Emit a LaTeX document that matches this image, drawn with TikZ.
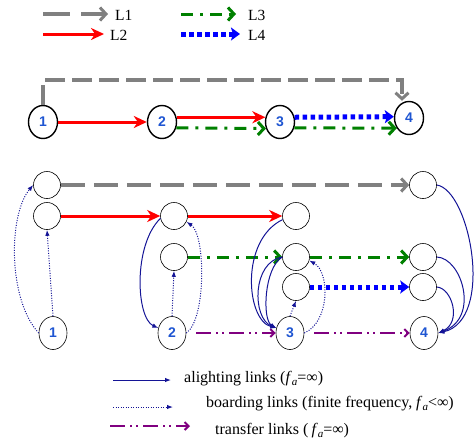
\documentclass[tikz,border=0pt]{standalone}
\usepackage{fontspec}
\setmainfont{Liberation Serif}
\newfontfamily\labfont{Liberation Sans}
\usetikzlibrary{arrows.meta,shapes.geometric}
\definecolor{navy}{RGB}{20,20,150}
\definecolor{lblue}{RGB}{30,85,210}
\definecolor{lgreen}{RGB}{0,128,0}
\definecolor{lpurple}{RGB}{128,0,128}
\definecolor{lgray}{RGB}{128,128,128}
\newcommand{\fa}{\textit{f}\raisebox{-0.35ex}{\fontsize{11}{11}\selectfont\textit{a}}}
\begin{document}
\begin{tikzpicture}[x=1pt,y=-1pt,
  txt/.style={font=\fontsize{15.5}{17}\selectfont, inner sep=0pt, anchor=west},
  ltxt/.style={font=\fontsize{16}{18}\selectfont, inner sep=0pt, anchor=west},
  bignode/.style={draw, ellipse, line width=1.4pt, minimum width=29pt, minimum height=33pt, inner sep=0pt, font=\labfont\bfseries\fontsize{14}{14}\selectfont, text=lblue},
  odnode/.style={draw, ellipse, line width=0.6pt, minimum width=28pt, minimum height=33pt, inner sep=0pt, font=\labfont\bfseries\fontsize{14}{14}\selectfont, text=lblue},
  stopnode/.style={draw, circle, line width=0.6pt, minimum size=27pt, inner sep=0pt},
  lineA/.style={lgray, line width=3.5pt, dash pattern=on 24pt off 9pt, -{Straight Barb[length=6pt,width=13pt,line width=3pt]}},
  lineAtop/.style={lgray, line width=3.5pt, dash pattern=on 20pt off 7pt, -{Straight Barb[length=6pt,width=13pt,line width=3pt]}},
  lineB/.style={red, line width=3pt, -{Stealth[length=13pt,width=12pt,inset=4pt]}},
  lineC/.style={lgreen, line width=3pt, dash pattern=on 12pt off 7pt on 3pt off 7pt, -{Straight Barb[length=6pt,width=13pt,line width=3pt]}},
  lineD/.style={blue, line width=5pt, dash pattern=on 4.5pt off 3.5pt, -{Stealth[length=9pt,width=13pt,inset=2pt]}},
  transfer/.style={lpurple, line width=2.5pt, dash pattern=on 15pt off 5pt on 2pt off 4pt on 2pt off 5pt, -{Straight Barb[length=4pt,width=8pt,line width=2pt]}},
  alight/.style={navy, line width=1pt, -{Latex[length=6pt,width=4.5pt]}},
  board/.style={navy, line width=1pt, dash pattern=on 1pt off 1.5pt, -{Latex[length=6pt,width=4.5pt]}}
]
\useasboundingbox (0,0) rectangle (476,445);

% ---- legend top
\coordinate (la1) at (43,14); \coordinate (la2) at (108,14);
\coordinate (lb1) at (43,34); \coordinate (lb2) at (104,34);
\coordinate (lc1) at (181,14); \coordinate (lc2) at (236,14);
\coordinate (ld1) at (181,34); \coordinate (ld2) at (240,34);
\draw[lineA, dash pattern=on 27pt off 11pt] (la1) -- (la2);
\draw[lineB] (lb1) -- (lb2);
\draw[lineC] (lc1) -- (lc2);
\draw[lineD] (ld1) -- (ld2);
\node[txt] (tL1) at (115,15) {L1};
\node[txt] (tL2) at (110,35) {L2};
\node[txt] (tL3) at (248,15) {L3};
\node[txt] (tL4) at (248,35) {L4};

% ---- top network
\node[bignode] (n1) at (43,122) {1};
\node[bignode] (n2) at (162,122) {2};
\node[bignode] (n3) at (280,122) {3};
\node[bignode] (n4) at (409,118) {4};
\coordinate (g1) at (43,80);
\coordinate (g2) at (402,80);
\draw[lineAtop] (n1.north) -- (g1) -- (g2) -- (g2 |- n4.north);
\draw[lineB] (n1.east) -- (n2.west);
\draw[lineB] (n2.18) -- (n3.162);
\draw[lineC] (n2.-22) -- (n3.-155);
\draw[lineD] (n3.18) -- (n4.175);
\draw[lineC] (n3.-22) -- (n4.-140);

% ---- bottom network
\node[stopnode] (A1) at (47,185) {};
\node[stopnode] (A2) at (47,216) {};
\node[odnode] (m1) at (53,333) {1};
\node[stopnode] (s2a) at (174,216) {};
\node[stopnode] (s2c) at (174,257) {};
\node[odnode] (m2) at (172,333) {2};
\node[stopnode] (s3a) at (296,216) {};
\node[stopnode] (s3c) at (296,257) {};
\node[stopnode] (s3d) at (296,287) {};
\node[odnode] (m3) at (290,333) {3};
\node[stopnode] (s4a) at (423,185) {};
\node[stopnode] (s4c) at (423,257) {};
\node[stopnode] (s4d) at (423,287) {};
\node[odnode] (m4) at (424,333) {4};

\draw[lineA] (A1) -- (s4a);
\draw[lineB] (A2) -- (s2a);
\draw[lineB] (s2a) -- (s3a);
\draw[lineC] (s2c) -- (s3c);
\draw[lineC] (s3c) -- (s4c);
\draw[lineD] (s3d) -- (s4d);
\draw[transfer, shorten <=10pt] (m2) -- (m3);
\draw[transfer, shorten <=10pt] (m3) -- (m4);

% boarding links
\draw[board] (m1.west) .. controls (8,300) and (8,215) .. (A1.west);
\draw[board] (m1.north) -- (A2.south);
\draw[board] (m2.north) -- (s2c.south);
\draw[board] (m2.east) .. controls (206,320) and (206,235) .. (s2a.-25);
\draw[board] (m3.north) -- (s3d.south);
\draw[board] (m3.east) .. controls (330,322) and (330,272) .. (s3c.-15);

% alighting links
\draw[alight] (s2a.190) .. controls (133,245) and (136,318) .. (m2.160);
\draw[alight] (s3a.195) .. controls (240,240) and (246,320) .. (m3.160);
\draw[alight] (s3c.west) .. controls (252,262) and (252,318) .. (m3.160);
\draw[alight] (s3c.west) .. controls (264,268) and (262,320) .. (m3.160);
\draw[alight] (s4a.east) .. controls (470,190) and (495,320) .. (m4.east);
\draw[alight] (s4c.east) .. controls (462,258) and (480,318) .. (m4.east);
\draw[alight] (s4d.east) .. controls (452,288) and (462,322) .. (m4.east);

% ---- legend bottom
\coordinate (ea1) at (113,380); \coordinate (ea2) at (171,380);
\coordinate (eb1) at (113,407); \coordinate (eb2) at (173,407);
\coordinate (ec1) at (110,426); \coordinate (ec2) at (190,426);
\draw[alight] (ea1) -- (ea2);
\draw[board] (eb1) -- (eb2);
\draw[transfer] (ec1) -- (ec2);
\node[ltxt] (ta) at (184,379) {alighting links (\fa=∞)};
\node[ltxt] (tb) at (206,404) {boarding links (finite frequency, \fa<∞)};
\node[ltxt] (tc) at (215,431) {transfer links (\hspace{3pt}\fa=∞)};
\end{tikzpicture}
\end{document}
